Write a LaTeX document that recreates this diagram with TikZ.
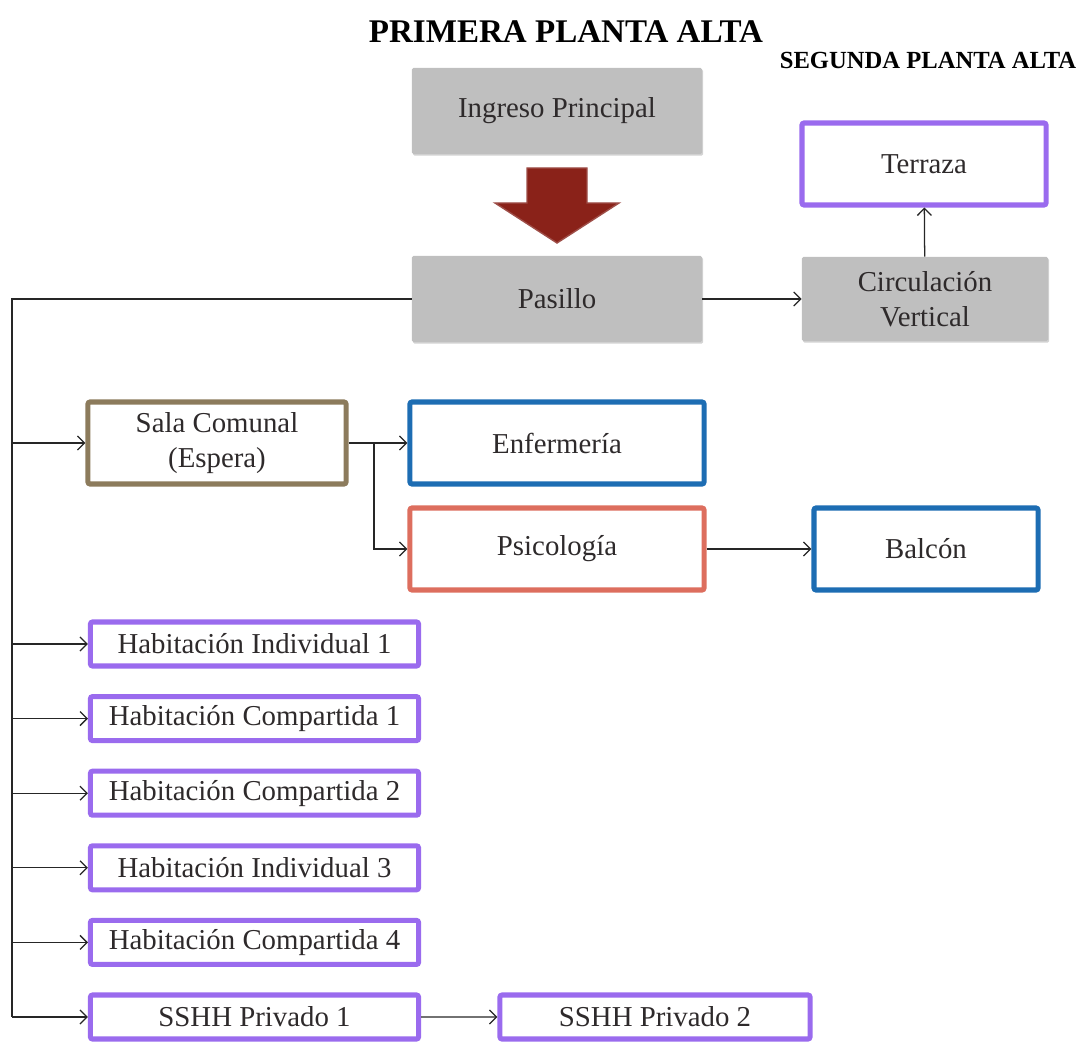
\documentclass[tikz,border=0pt]{standalone}
\usepackage{fontspec}
\setmainfont{Liberation Serif}
\usetikzlibrary{shadows,arrows.meta}

\definecolor{boxgray}{HTML}{BFBFBF}
\definecolor{textgray}{HTML}{2E2A2B}
\definecolor{roompurple}{HTML}{9A6BEE}
\definecolor{roomblue}{HTML}{1D6DB3}
\definecolor{roomsalmon}{HTML}{DD6E5E}
\definecolor{roombrown}{HTML}{8C7B5C}
\definecolor{arrowred}{HTML}{8A2219}
\definecolor{arrowedge}{HTML}{9E4E48}

\begin{document}
\begin{tikzpicture}[x=0.025cm, y=-0.025cm, >={Straight Barb[length=5pt,width=10pt]}]
        \tikzstyle{base}=[rectangle, inner sep=2pt, align=center, text=textgray, font=\fontsize{20.5}{25}\selectfont]
        \tikzstyle{greybox}=[base, fill=boxgray, rounded corners=1pt, drop shadow={shadow xshift=0.8pt, shadow yshift=-1.2pt, opacity=0.35}]
        \tikzstyle{framed}=[base, fill=white, line width=3.6pt, rounded corners=1.5pt, drop shadow={shadow xshift=0.8pt, shadow yshift=-1.2pt, opacity=0.15}]
        \tikzstyle{room}=[framed, draw=roompurple, minimum width=8.2cm, minimum height=1.1cm]
        \tikzstyle{link}=[->, line width=0.9pt, black!85]

        \useasboundingbox (0,0) rectangle (1078,1044);

        % titles
        \node[font=\bfseries\fontsize{23.5}{28}\selectfont] (title1) at (566,32) {PRIMERA PLANTA ALTA};
        \node[font=\bfseries\fontsize{17.5}{21}\selectfont] (title2) at (928,60) {SEGUNDA PLANTA ALTA};

        % upper nodes
        \node[greybox, minimum width=7.25cm, minimum height=2.15cm] (ingreso) at (557,111) {Ingreso Principal};
        \node[greybox, minimum width=7.25cm, minimum height=2.15cm] (pasillo) at (557,299) {Pasillo};
        \node[greybox, minimum width=6.15cm, minimum height=2.1cm] (circ) at (925,299) {Circulación\\Vertical};
        \node[framed, draw=roompurple, minimum width=6.1cm, minimum height=2.05cm] (terraza) at (924,164) {Terraza};

        % big arrow between entrance and corridor
        \draw[fill=arrowred, draw=arrowedge, line width=1pt]
            (527,168) -- (587,168) -- (587,203) -- (619,203) -- (557,243)
            -- (495,203) -- (527,203) -- cycle;

        % middle nodes
        \node[framed, draw=roombrown, minimum width=6.45cm, minimum height=2.05cm] (sala) at (217,443) {Sala Comunal\\(Espera)};
        \node[framed, draw=roomblue, minimum width=7.35cm, minimum height=2.05cm] (enf) at (557,443) {Enfermería};
        \node[framed, draw=roomsalmon, minimum width=7.35cm, minimum height=2.05cm] (psico) at (557,549) {Psicología};
        \node[framed, draw=roomblue, minimum width=5.6cm, minimum height=2.05cm] (balcon) at (926,549) {Balcón};

        % rooms
        \foreach \name/\txt [count=\i] in {hi1/Habitación Individual 1, hc1/Habitación Compartida 1,
                hc2/Habitación Compartida 2, hi3/Habitación Individual 3,
                hc4/Habitación Compartida 4, ss1/SSHH Privado 1}
            \node[room] (\name) at (254.5,{644+74.6*(\i-1)}) {\txt};
        \node[room, minimum width=7.75cm] (ss2) at (655,1017) {SSHH Privado 2};

        % trunk
        \coordinate (trunk) at (12,299);
        \coordinate (trunkend) at (12,1017);
        \draw[line width=0.9pt, black!85] (pasillo.west) -- (trunk) -- (trunkend);
        \foreach \n in {sala,hi1,hc1,hc2,hi3,hc4,ss1}
            \draw[link] (trunk |- \n.west) -- (\n.west);

        % connectors
        \draw[link] (pasillo) -- (circ);
        \draw[link] (circ) -- (terraza);
        \draw[link] (sala) -- (enf);
        \coordinate (split) at (374,443);
        \draw[link] (split) |- (psico.west);
        \draw[link] (psico) -- (balcon);
        \draw[link] (ss1) -- (ss2);
\end{tikzpicture}
\end{document}
